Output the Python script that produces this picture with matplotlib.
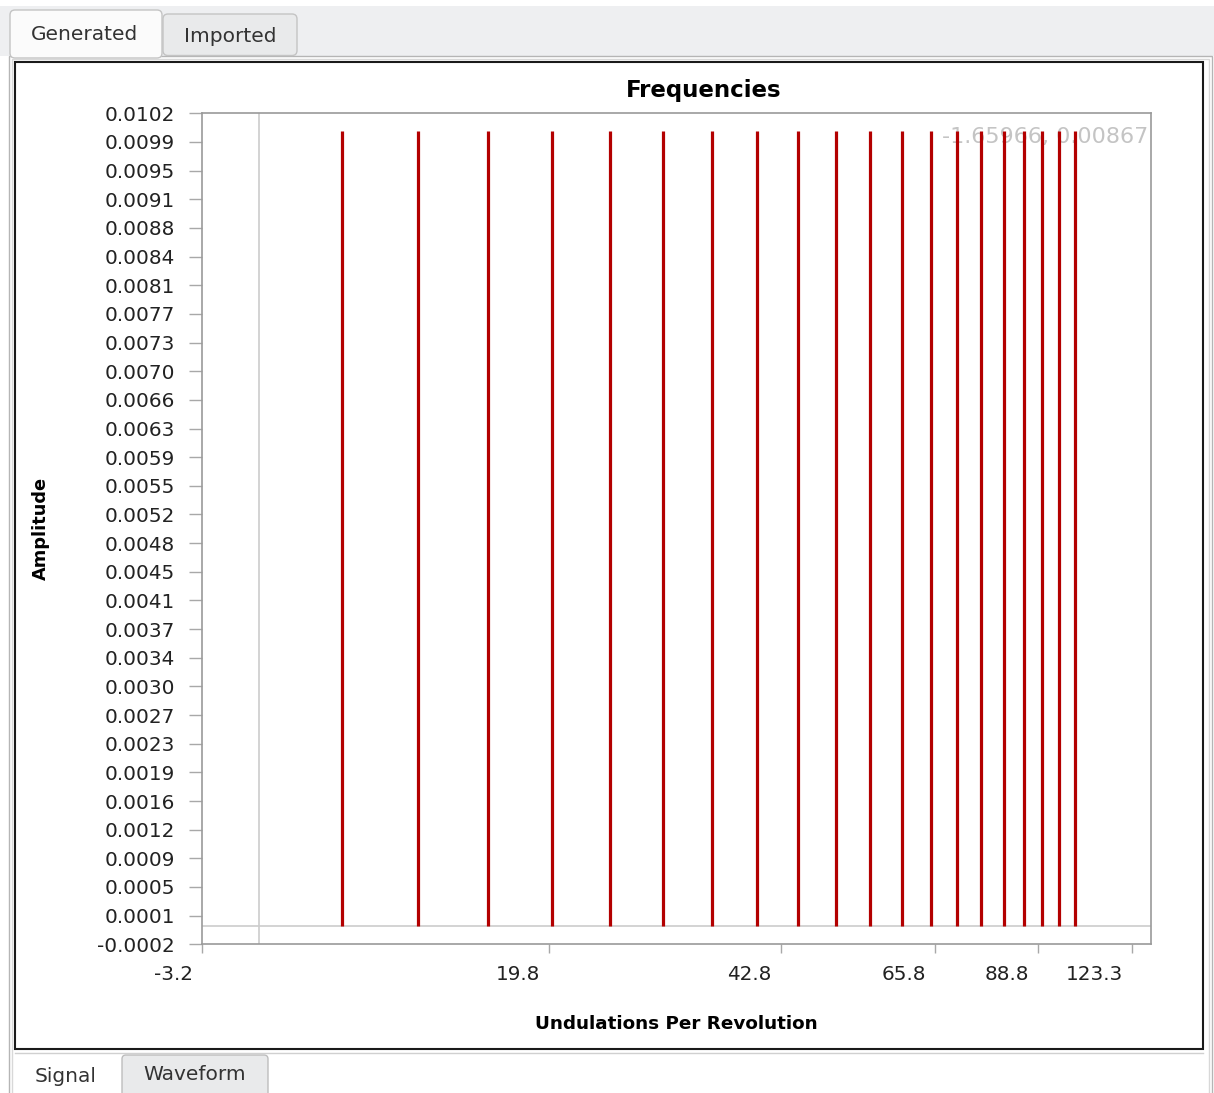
import numpy as np
import matplotlib
matplotlib.use("Agg")
import matplotlib.pyplot as plt
from matplotlib.patches import Rectangle, FancyBboxPatch
from matplotlib.transforms import ScaledTranslation

# spectrum lines (undulations per revolution vs amplitude)
undulations = [5, 10, 15, 20, 25, 30, 35, 40, 45, 50,
               55, 60, 65, 70, 75, 80, 85, 90, 95, 100]
amplitudes = [0.0100, 0.0100, 0.0100, 0.0100, 0.0100, 0.0100, 0.0100, 0.0100, 0.0100, 0.0100,
              0.0100, 0.0100, 0.0100, 0.0100, 0.0100, 0.0100, 0.0100, 0.0100, 0.0100, 0.0100]

x_ticks = [-3.2, 19.8, 42.8, 65.8, 88.8, 123.3]
x_tick_labels = ["-3.2", "19.8", "42.8", "65.8", "88.8", "123.3"]
y_tick_labels = ["-0.0002", "0.0001", "0.0005", "0.0009", "0.0012", "0.0016",
                 "0.0019", "0.0023", "0.0027", "0.0030", "0.0034", "0.0037",
                 "0.0041", "0.0045", "0.0048", "0.0052", "0.0055", "0.0059",
                 "0.0063", "0.0066", "0.0070", "0.0073", "0.0077", "0.0081",
                 "0.0084", "0.0088", "0.0091", "0.0095", "0.0099", "0.0102"]
cursor_text = "-1.65966, 0.00867"

W, H = 1214, 1093
fig = plt.figure(figsize=(W / 100, H / 100), dpi=100, facecolor="white")

# window chrome drawn in pixel coordinates
bg = fig.add_axes([0, 0, 1, 1], zorder=0)
bg.set_xlim(0, W)
bg.set_ylim(H, 0)
bg.axis("off")
bg.add_patch(Rectangle((0, 6), W, 50, fc="#eeeff1", ec="none"))
bg.add_patch(Rectangle((8.5, 55.5), 1203, 1045, fc="white", ec="#b5b5b5", lw=1))
bg.add_patch(Rectangle((11.5, 58.5), 1197, 1045, fc="none", ec="#d8d8d8", lw=1))
bg.add_patch(Rectangle((15, 61.5), 1188, 987.5, fc="white", ec="#1a1a1a", lw=1.5))
bg.plot([15, 1203], [1053, 1053], color="#d0d0d0", lw=1)
bg.add_patch(FancyBboxPatch((10, 10), 152, 48, boxstyle="round,pad=0,rounding_size=5",
                            fc="#fbfbfb", ec="#c4c4c4", lw=1))
bg.add_patch(FancyBboxPatch((163, 14), 134, 41.5, boxstyle="round,pad=0,rounding_size=5",
                            fc="#e9eaeb", ec="#c4c4c4", lw=1))
bg.add_patch(FancyBboxPatch((122, 1055), 146, 50, boxstyle="round,pad=0,rounding_size=4",
                            fc="#e9eaeb", ec="#bdbdbd", lw=1))
bg.text(85, 34, "Generated", ha="center", va="center", fontsize=14.5, color="#333333")
bg.text(230, 36, "Imported", ha="center", va="center", fontsize=14.5, color="#333333")
bg.text(66, 1076, "Signal", ha="center", va="center", fontsize=14.5, color="#333333")
bg.text(195, 1074, "Waveform", ha="center", va="center", fontsize=14.5, color="#333333")

# the chart's saturating x scale
K = 56.8


def fwd(x):
    return 1 - np.exp(-np.asarray(x, dtype=float) / K)


def inv(y):
    return -K * np.log(np.clip(1 - np.asarray(y, dtype=float), 1e-9, None))


ax = fig.add_axes([202 / W, 1 - 944.3 / H, 949 / W, 831 / H], zorder=2)
ax.set_facecolor("white")
ax.set_xscale("function", functions=(fwd, inv))
ax.set_xlim(-3.2, 133.8)
ymin, ymax = -0.000225, 0.010225
ax.set_ylim(ymin, ymax)

ax.axhline(0, color="#cccccc", lw=1.2, zorder=1)
ax.axvline(0, color="#cccccc", lw=1.2, zorder=1)
ax.text(0.9968, 0.9835, cursor_text, transform=ax.transAxes, ha="right", va="top",
        fontsize=16, color="#c4c4c4", zorder=1.5)
ax.vlines(undulations, 0, amplitudes, colors="#b30000", lw=2.3, zorder=2)

for s in ax.spines.values():
    s.set_color("#9a9a9a")
    s.set_linewidth(1.2)

ax.tick_params(axis="y", length=9.5, pad=9.9, width=1, color="#a8a8a8",
               labelsize=14.4, labelcolor="#222222")
ax.tick_params(axis="x", length=6.5, pad=8.5, width=1, color="#a8a8a8",
               labelsize=14.4, labelcolor="#222222")
ax.xaxis.set_minor_locator(matplotlib.ticker.NullLocator())
ax.yaxis.set_minor_locator(matplotlib.ticker.NullLocator())

ax.set_yticks(np.linspace(ymin, ymax, len(y_tick_labels)), labels=y_tick_labels)
ax.set_xticks(x_ticks, labels=x_tick_labels, ha="right")
shift = ScaledTranslation(-9 / fig.dpi, 0, fig.dpi_scale_trans)
for lab in ax.get_xticklabels():
    lab.set_transform(lab.get_transform() + shift)

ax.set_title("Frequencies", x=0.529, pad=12, fontsize=16.5, fontweight="bold")
ax.set_xlabel("Undulations Per Revolution", fontsize=13.2, fontweight="bold")
ax.xaxis.set_label_coords(0.5, -0.085)
ax.set_ylabel("Amplitude", fontsize=12.8, fontweight="bold")
ax.yaxis.set_label_coords(-0.160, 0.501)

fig.savefig("out.png", dpi=100, facecolor=fig.get_facecolor())
